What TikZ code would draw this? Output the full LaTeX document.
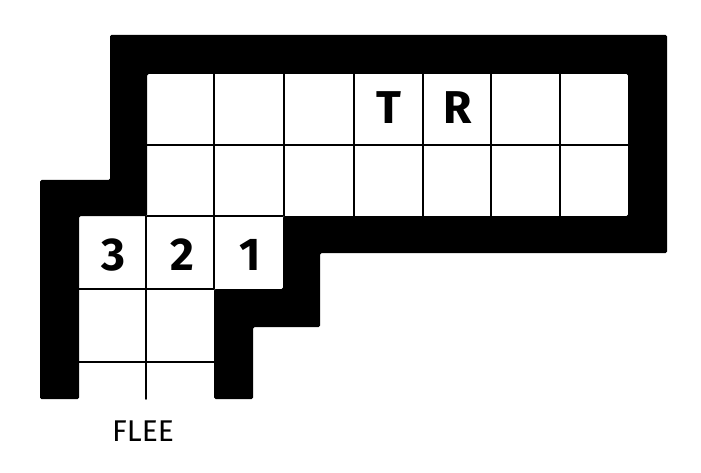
\documentclass[tikz,border=0pt]{standalone}
\usepackage{fontspec}
\setmainfont{Fira Sans}
\begin{document}
\begin{tikzpicture}[x=1pt,y=-1pt,
  wall/.style={fill=black,draw=none,rounded corners=1.5pt},
  gridline/.style={line width=1.8pt,line cap=round,draw=black},
  glyph/.style={font=\fontsize{46}{46}\selectfont\bfseries,inner sep=0pt,anchor=base},
  caption/.style={font=\fontsize{30}{30}\selectfont,inner sep=0pt,anchor=base}]
\useasboundingbox[fill=white] (0,0) rectangle (701,473);
% thick black wall
\fill[wall] (40,180) -- (110,180) -- (110,35) -- (667,35) -- (667,253) -- (320,253)
  -- (320,327) -- (253,327) -- (253,399) -- (214,399) -- (214,289) -- (283,289)
  -- (283,216) -- (628,216) -- (628,74) -- (147,74) -- (147,216) -- (79,216)
  -- (79,399) -- (40,399) -- cycle;
% grid lines of the upper block
\draw[gridline] (147,145) -- (628,145);
\foreach \x in {214,284,354,423,491,560} \draw[gridline] (\x,74) -- (\x,216);
\draw[gridline] (147,216) -- (283,216);
% grid lines of the lower block
\draw[gridline] (79,289) -- (214,289);
\draw[gridline] (79,362) -- (214,362);
\draw[gridline] (146,216) -- (146,399);
\draw[gridline] (214,216) -- (214,289);
% letters
\node[glyph] (t) at (389,124) {T};
\node[glyph] (r) at (458,124) {R};
\node[glyph] (three) at (113,270) {3};
\node[glyph] (two) at (182,270) {2};
\node[glyph] (one) at (250,270) {1};
\node[caption] (flee) at (143,441) {FLEE};
\end{tikzpicture}
\end{document}
